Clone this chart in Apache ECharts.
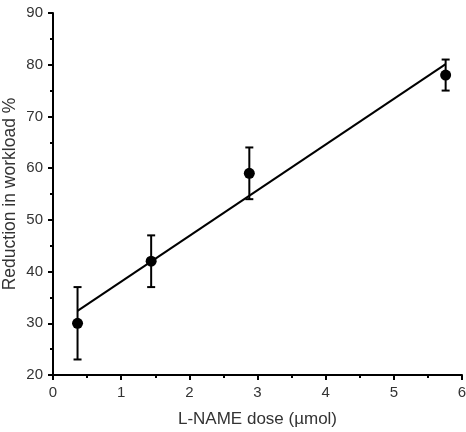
<!DOCTYPE html>
<html>
<head>
<meta charset="utf-8">
<script src="https://cdn.jsdelivr.net/npm/echarts@6/dist/echarts.min.js"></script>
<style>
  html, body { margin: 0; padding: 0; background: #fff; }
  #container { width: 466px; height: 432px; }
</style>
</head>
<body>
<div id="container"></div>
<script>
// L-NAME dose vs reduction in workload
var doses = [0.36, 1.44, 2.88, 5.76];
var reduction = [30, 42, 59, 78];
var errLow = [23, 37, 54, 75];
var errHigh = [37, 47, 64, 81];
// fitted line ends
var fitLine = [[0.36, 32.4], [5.76, 80.1]];

var dom = document.getElementById("container");
var myChart = echarts.init(dom);

var points = doses.map(function (d, i) { return [d, reduction[i]]; });
var bars = doses.map(function (d, i) { return [d, errLow[i], errHigh[i]]; });

var fontFam = 'Liberation Sans, Arial, sans-serif';

option = {
    animation: false,
    grid: {
        left: 53,
        right: 4,
        top: 13,
        bottom: 57,
        containLabel: false,
        outerBoundsMode: 'none'
    },
    xAxis: {
        type: 'value',
        min: 0,
        max: 6,
        interval: 1,
        name: 'L-NAME dose (\u00b5mol)',
        nameLocation: 'middle',
        nameGap: 36,
        nameMoveOverlap: false,
        nameTextStyle: { color: '#333', fontSize: 17, fontFamily: fontFam },
        axisLine: { show: true, onZero: false, lineStyle: { color: '#000', width: 2 } },
        axisTick: { show: true, length: 5, lineStyle: { color: '#000', width: 2 } },
        minorTick: { show: true, splitNumber: 2, length: 3, lineStyle: { color: '#000', width: 2 } },
        axisLabel: { margin: 10, color: '#333', fontSize: 15, fontFamily: fontFam },
        splitLine: { show: false }
    },
    yAxis: {
        type: 'value',
        min: 20,
        max: 90,
        interval: 10,
        name: 'Reduction in workload %',
        nameLocation: 'middle',
        nameGap: 34,
        nameMoveOverlap: false,
        nameTextStyle: { color: '#333', fontSize: 17.5, fontFamily: fontFam },
        axisLine: { show: true, onZero: false, lineStyle: { color: '#000', width: 2 } },
        axisTick: { show: true, length: 5, lineStyle: { color: '#000', width: 2 } },
        minorTick: { show: true, splitNumber: 2, length: 3, lineStyle: { color: '#000', width: 2 } },
        axisLabel: { margin: 10, color: '#333', fontSize: 15, fontFamily: fontFam },
        splitLine: { show: false }
    },
    series: [
        {
            type: 'line',
            data: fitLine,
            symbol: 'none',
            lineStyle: { color: '#000', width: 2 },
            z: 2
        },
        {
            type: 'custom',
            data: bars,
            renderItem: function (params, api) {
                var x = api.value(0);
                var lo = api.coord([x, api.value(1)]);
                var hi = api.coord([x, api.value(2)]);
                var cap = 4;
                var style = { stroke: '#000', lineWidth: 2 };
                return {
                    type: 'group',
                    children: [
                        { type: 'line', shape: { x1: lo[0], y1: lo[1], x2: hi[0], y2: hi[1] }, style: style },
                        { type: 'line', shape: { x1: hi[0] - cap, y1: hi[1], x2: hi[0] + cap, y2: hi[1] }, style: style },
                        { type: 'line', shape: { x1: lo[0] - cap, y1: lo[1], x2: lo[0] + cap, y2: lo[1] }, style: style }
                    ]
                };
            },
            z: 3
        },
        {
            type: 'scatter',
            data: points,
            symbol: 'circle',
            symbolSize: 11,
            itemStyle: { color: '#000', opacity: 1 },
            z: 4
        }
    ]
};

myChart.setOption(option);
</script>
</body>
</html>
